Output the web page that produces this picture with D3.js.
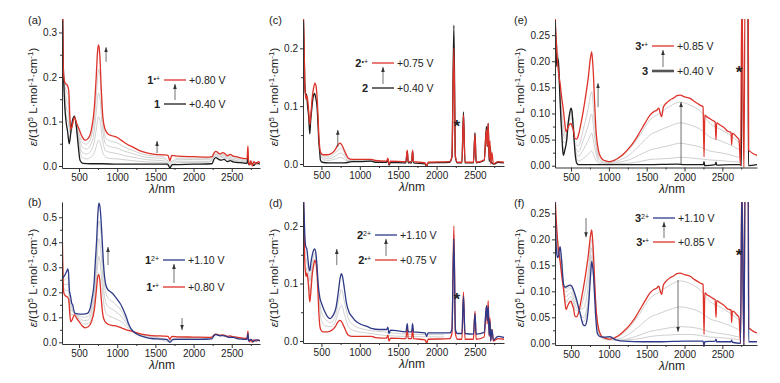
<!DOCTYPE html>
<html>
<head>
<meta charset="utf-8">
<script src="https://cdn.jsdelivr.net/npm/d3@7"></script>
<style>
body { margin: 0; background: #fff; }
text { font-family: "Liberation Sans", Arial, sans-serif; fill: #222; }
</style>
</head>
<body>
<script>
// ---- spectra, [wavelength nm, epsilon / 1e5 L mol-1 cm-1] ----
var neutral1 = [[280,0.40],[290,0.26],[300,0.19],[315,0.13],[330,0.10],[350,0.078],[372,0.05],[390,0.072],[415,0.103],[440,0.112],[465,0.088],[490,0.045],[513,0.013],[550,0.006],[650,0.005],[800,0.005],[1000,0.004],[1300,0.004],[1660,0.004],[1690,-0.004],[1720,0.003],[2000,0.004],[2240,0.005],[2270,0.016],[2290,0.019],[2320,0.016],[2360,0.013],[2400,0.015],[2440,0.01],[2480,0.012],[2520,0.009],[2560,0.008],[2640,0.007],[2700,0.006],[2712,0.02],[2722,0.003],[2760,0.006],[2790,0.001],[2820,0.007],[2870,0.004]];
var radical1 = [[280,0.44],[286,0.33],[292,0.24],[300,0.2],[320,0.186],[345,0.182],[365,0.17],[380,0.11],[392,0.082],[410,0.09],[440,0.11],[465,0.098],[500,0.083],[540,0.066],[580,0.058],[620,0.062],[660,0.08],[700,0.13],[725,0.2],[745,0.262],[758,0.272],[772,0.25],[792,0.17],[812,0.11],[840,0.083],[880,0.072],[930,0.068],[1000,0.064],[1060,0.057],[1120,0.05],[1200,0.043],[1300,0.034],[1400,0.029],[1500,0.026],[1600,0.025],[1665,0.024],[1690,0.012],[1715,0.024],[1800,0.022],[2000,0.021],[2200,0.02],[2245,0.021],[2270,0.03],[2290,0.033],[2320,0.03],[2350,0.027],[2380,0.03],[2410,0.028],[2440,0.023],[2480,0.026],[2520,0.022],[2560,0.021],[2600,0.019],[2650,0.017],[2700,0.016],[2712,0.045],[2720,0.01],[2735,0.002],[2750,0.012],[2770,0.0],[2790,0.01],[2820,0.005],[2850,0.01],[2870,0.006]];
var dication1 = [[280,0.256],[300,0.262],[317,0.27],[340,0.285],[352,0.293],[362,0.28],[373,0.21],[390,0.183],[405,0.155],[417,0.15],[430,0.13],[448,0.116],[513,0.113],[560,0.113],[609,0.116],[640,0.13],[670,0.175],[697,0.236],[715,0.33],[731,0.41],[748,0.52],[760,0.556],[773,0.545],[786,0.5],[803,0.41],[819,0.32],[835,0.26],[854,0.226],[880,0.21],[906,0.203],[940,0.195],[972,0.183],[1000,0.172],[1037,0.156],[1065,0.14],[1090,0.123],[1120,0.1],[1146,0.076],[1180,0.055],[1212,0.043],[1260,0.032],[1300,0.027],[1360,0.021],[1430,0.016],[1550,0.013],[1650,0.012],[1690,0.0],[1730,0.012],[1900,0.012],[2085,0.012],[2240,0.014],[2270,0.027],[2290,0.031],[2320,0.028],[2350,0.026],[2380,0.027],[2420,0.025],[2460,0.02],[2520,0.02],[2560,0.016],[2620,0.013],[2700,0.012],[2712,0.035],[2722,0.005],[2750,0.012],[2780,0.003],[2820,0.01],[2870,0.006]];

var greyNmA = [280,300,330,360,390,440,490,540,600,650,700,730,755,775,800,850,900,1000,1100,1200,1400,1600,1690,1800,2200,2280,2400,2600,2850];
var greyA = [
  [0.43,0.198,0.169,0.159,0.082,0.11,0.079,0.054,0.049,0.061,0.105,0.169,0.217,0.201,0.129,0.063,0.057,0.052,0.042,0.035,0.024,0.021,0.009,0.018,0.017,0.029,0.026,0.017,0.006],
  [0.424,0.196,0.152,0.138,0.079,0.111,0.072,0.043,0.038,0.047,0.08,0.128,0.164,0.152,0.098,0.049,0.044,0.04,0.033,0.028,0.019,0.017,0.006,0.015,0.014,0.026,0.023,0.014,0.005],
  [0.416,0.194,0.134,0.117,0.076,0.111,0.064,0.031,0.027,0.033,0.055,0.087,0.111,0.103,0.067,0.034,0.031,0.028,0.023,0.02,0.014,0.012,0.002,0.011,0.01,0.023,0.02,0.011,0.005],
  [0.408,0.192,0.117,0.096,0.073,0.112,0.057,0.019,0.016,0.019,0.03,0.046,0.058,0.054,0.036,0.02,0.017,0.016,0.014,0.012,0.009,0.008,-0.001,0.008,0.007,0.021,0.018,0.009,0.004]
];
var greyNmB = [280,300,330,360,390,440,500,560,620,670,700,730,760,790,820,860,900,950,1000,1050,1100,1150,1200,1300,1500,1690,1800,2200,2290,2450,2850];
var greyB = [
  [0.394,0.216,0.208,0.206,0.11,0.112,0.092,0.073,0.075,0.104,0.158,0.258,0.343,0.275,0.165,0.113,0.104,0.098,0.091,0.083,0.069,0.055,0.044,0.032,0.023,0.009,0.02,0.018,0.033,0.024,0.006],
  [0.348,0.231,0.232,0.233,0.134,0.114,0.099,0.087,0.089,0.128,0.185,0.305,0.414,0.35,0.22,0.15,0.138,0.129,0.118,0.105,0.085,0.062,0.044,0.031,0.02,0.006,0.017,0.017,0.032,0.024,0.006],
  [0.302,0.247,0.255,0.259,0.159,0.116,0.106,0.1,0.103,0.151,0.213,0.353,0.485,0.425,0.275,0.188,0.171,0.16,0.145,0.128,0.1,0.068,0.045,0.029,0.016,0.003,0.015,0.015,0.032,0.023,0.006]
];

var neutral2 = [[262,0.27],[275,0.2],[283,0.14],[292,0.122],[305,0.12],[320,0.1],[335,0.08],[348,0.052],[360,0.075],[378,0.1],[395,0.118],[410,0.122],[425,0.115],[443,0.099],[455,0.07],[465,0.041],[478,0.02],[487,0.007],[510,0.003],[600,0.002],[800,0.002],[900,0.004],[1000,0.004],[1150,0.005],[1200,0.003],[1350,0.003],[1365,0.008],[1380,-0.002],[1400,0.003],[1600,0.002],[1618,0.022],[1630,0.002],[1675,0.002],[1687,0.022],[1700,0.002],[1850,0.0],[1870,-0.005],[1890,0.002],[2170,0.003],[2200,0.012],[2225,0.24],[2245,0.012],[2270,0.002],[2330,0.002],[2350,0.09],[2370,0.002],[2480,0.002],[2500,0.054],[2515,0.002],[2620,0.006],[2650,0.065],[2660,0.03],[2672,0.07],[2685,0.004],[2700,0.03],[2710,0.003],[2750,0.0],[2800,0.003],[2878,0.002]];
var radical2 = [[262,0.27],[275,0.2],[283,0.14],[292,0.12],[300,0.112],[308,0.118],[318,0.114],[335,0.09],[348,0.068],[362,0.085],[380,0.115],[400,0.133],[415,0.14],[430,0.135],[443,0.116],[455,0.085],[465,0.053],[478,0.028],[490,0.02],[520,0.016],[580,0.016],[640,0.019],[680,0.025],[710,0.032],[740,0.036],[760,0.034],[790,0.026],[820,0.017],[850,0.01],[900,0.008],[1000,0.008],[1150,0.008],[1200,0.006],[1350,0.005],[1365,0.01],[1380,0.0],[1400,0.005],[1600,0.004],[1618,0.024],[1630,0.004],[1675,0.004],[1687,0.024],[1700,0.004],[1850,0.002],[1870,-0.004],[1890,0.003],[2170,0.004],[2200,0.013],[2225,0.2],[2245,0.013],[2270,0.003],[2330,0.003],[2350,0.085],[2370,0.003],[2480,0.003],[2500,0.052],[2515,0.003],[2620,0.007],[2650,0.06],[2660,0.03],[2672,0.07],[2685,0.008],[2695,0.04],[2705,0.0],[2720,0.02],[2740,0.0],[2800,0.004],[2878,0.003]];
var dication2 = [[262,0.27],[275,0.22],[285,0.18],[295,0.165],[310,0.16],[326,0.14],[340,0.125],[350,0.122],[362,0.135],[385,0.152],[410,0.16],[425,0.155],[440,0.135],[457,0.1],[480,0.075],[500,0.066],[540,0.052],[580,0.042],[615,0.039],[650,0.044],[690,0.058],[720,0.085],[745,0.11],[760,0.117],[775,0.112],[800,0.09],[826,0.066],[860,0.05],[900,0.042],[935,0.036],[1000,0.03],[1100,0.025],[1152,0.022],[1250,0.02],[1350,0.02],[1365,0.024],[1380,0.013],[1400,0.019],[1600,0.016],[1618,0.03],[1630,0.016],[1675,0.016],[1687,0.03],[1700,0.016],[1850,0.014],[1870,0.008],[1890,0.014],[2170,0.014],[2200,0.02],[2225,0.178],[2245,0.02],[2270,0.013],[2330,0.013],[2350,0.078],[2370,0.013],[2480,0.012],[2500,0.048],[2515,0.012],[2620,0.015],[2650,0.062],[2660,0.035],[2672,0.06],[2685,0.01],[2695,0.035],[2705,0.0],[2720,0.02],[2740,0.002],[2800,0.008],[2878,0.006]];

var greyNmC = [480,500,540,600,660,700,730,755,780,820,860,920,1000,1200];
var greyC = [
  [0.023,0.017,0.013,0.012,0.017,0.022,0.026,0.027,0.024,0.013,0.008,0.007,0.007,0.005],
  [0.021,0.013,0.01,0.009,0.012,0.015,0.018,0.019,0.017,0.009,0.006,0.006,0.006,0.005],
  [0.018,0.01,0.007,0.006,0.008,0.009,0.011,0.011,0.01,0.006,0.005,0.005,0.005,0.004]
];
var greyNmD = [300,330,350,380,410,440,470,500,560,620,680,720,760,800,860,950,1100,1300,1600,2100];
var greyD = [
  [0.128,0.106,0.086,0.123,0.143,0.125,0.072,0.035,0.026,0.025,0.033,0.05,0.062,0.046,0.023,0.017,0.014,0.01,0.008,0.007],
  [0.144,0.122,0.104,0.135,0.152,0.13,0.078,0.051,0.037,0.032,0.042,0.067,0.09,0.068,0.036,0.025,0.019,0.016,0.012,0.011]
];

var neutral3 = [[285,0.3],[300,0.24],[311,0.19],[322,0.205],[333,0.2],[345,0.16],[355,0.126],[366,0.09],[377,0.062],[390,0.03],[399,0.02],[415,0.028],[443,0.049],[465,0.085],[478,0.097],[500,0.11],[512,0.105],[522,0.087],[540,0.05],[553,0.025],[575,0.005],[600,0.002],[800,0.002],[1000,0.002],[1500,0.002],[1900,0.003],[2000,0.002],[2250,0.002],[2258,0.008],[2266,0.0],[2405,0.002],[2416,0.007],[2425,0.001],[2600,0.002],[2740,0.002],[2752,0.0],[2760,0.32],[2838,0.32],[2845,0.0],[2958,0.002]];
var radical3 = [[285,0.3],[300,0.25],[311,0.221],[330,0.185],[355,0.158],[377,0.13],[399,0.106],[415,0.085],[434,0.065],[450,0.07],[465,0.075],[485,0.08],[500,0.081],[515,0.075],[531,0.068],[553,0.052],[575,0.051],[597,0.058],[630,0.08],[663,0.106],[700,0.14],[729,0.17],[755,0.205],[773,0.218],[785,0.2],[795,0.177],[812,0.12],[830,0.068],[845,0.045],[861,0.03],[890,0.017],[927,0.011],[970,0.009],[1015,0.008],[1080,0.011],[1148,0.017],[1210,0.025],[1280,0.036],[1350,0.05],[1412,0.065],[1480,0.082],[1544,0.097],[1600,0.104],[1632,0.106],[1660,0.11],[1680,0.1],[1698,0.094],[1720,0.112],[1760,0.12],[1808,0.126],[1860,0.13],[1900,0.134],[1941,0.135],[2000,0.132],[2073,0.129],[2140,0.122],[2205,0.116],[2245,0.113],[2258,0.017],[2268,0.097],[2300,0.093],[2337,0.09],[2380,0.086],[2405,0.084],[2416,0.05],[2425,0.082],[2469,0.078],[2530,0.072],[2570,0.066],[2615,0.064],[2623,0.04],[2632,0.062],[2660,0.06],[2690,0.055],[2720,0.05],[2740,0.0],[2758,0.33],[2785,-0.01],[2800,0.33],[2842,0.33],[2848,0.03],[2870,0.027],[2910,0.023],[2958,0.02]];
var dication3 = [[285,0.3],[300,0.2],[311,0.173],[322,0.165],[333,0.167],[345,0.18],[355,0.186],[366,0.175],[377,0.157],[390,0.13],[399,0.115],[420,0.108],[443,0.109],[465,0.111],[487,0.112],[510,0.11],[531,0.103],[553,0.094],[575,0.083],[597,0.07],[619,0.058],[640,0.045],[663,0.035],[685,0.034],[707,0.042],[730,0.07],[751,0.115],[765,0.145],[773,0.157],[785,0.148],[795,0.135],[810,0.095],[826,0.051],[848,0.019],[883,0.013],[950,0.012],[1015,0.013],[1060,0.009],[1104,0.006],[1200,0.004],[1456,0.003],[1700,0.003],[2000,0.004],[2245,0.004],[2258,-0.004],[2268,0.003],[2405,0.004],[2416,0.008],[2425,0.003],[2615,0.003],[2623,0.006],[2632,0.002],[2740,0.0],[2758,0.3],[2785,-0.01],[2800,0.3],[2842,0.3],[2848,0.003],[2958,0.003]];

var greyNmE = [300,333,366,399,434,465,500,531,553,597,663,729,773,812,861,927,1015,1148,1280,1412,1544,1660,1808,1941,2073,2205,2337,2469,2600,2720];
var greyE = [
  [0.247,0.194,0.123,0.076,0.056,0.079,0.091,0.075,0.043,0.038,0.07,0.111,0.142,0.079,0.02,0.01,0.007,0.016,0.033,0.059,0.088,0.099,0.114,0.122,0.116,0.105,0.081,0.07,0.059,0.045],
  [0.245,0.196,0.113,0.059,0.051,0.081,0.097,0.078,0.037,0.027,0.049,0.078,0.099,0.055,0.015,0.007,0.006,0.011,0.022,0.04,0.059,0.067,0.076,0.082,0.078,0.07,0.055,0.048,0.04,0.031],
  [0.243,0.197,0.104,0.044,0.047,0.082,0.102,0.082,0.033,0.018,0.031,0.049,0.062,0.035,0.01,0.005,0.004,0.007,0.012,0.021,0.03,0.034,0.039,0.043,0.04,0.036,0.028,0.025,0.021,0.016],
  [0.241,0.199,0.096,0.03,0.043,0.084,0.107,0.085,0.028,0.009,0.014,0.022,0.028,0.016,0.005,0.003,0.003,0.004,0.005,0.008,0.012,0.013,0.014,0.016,0.015,0.013,0.011,0.01,0.008,0.007]
];
var greyF = [
  [0.235,0.183,0.151,0.109,0.078,0.086,0.09,0.079,0.065,0.062,0.085,0.139,0.2,0.112,0.026,0.01,0.007,0.015,0.032,0.058,0.087,0.098,0.112,0.12,0.115,0.103,0.08,0.07,0.058,0.045],
  [0.223,0.177,0.16,0.111,0.089,0.094,0.098,0.088,0.075,0.065,0.067,0.114,0.184,0.105,0.023,0.008,0.006,0.009,0.019,0.034,0.05,0.057,0.065,0.07,0.067,0.06,0.047,0.041,0.034,0.026],
  [0.21,0.172,0.169,0.113,0.099,0.103,0.106,0.097,0.086,0.068,0.049,0.088,0.169,0.098,0.02,0.012,0.01,0.006,0.01,0.016,0.023,0.026,0.03,0.032,0.031,0.028,0.022,0.019,0.016,0.012],
  [0.204,0.169,0.173,0.114,0.105,0.107,0.109,0.101,0.091,0.069,0.041,0.076,0.162,0.095,0.018,0.012,0.011,0.006,0.007,0.009,0.013,0.015,0.016,0.017,0.017,0.015,0.012,0.011,0.009,0.007]
];

var xTicks = [500, 1000, 1500, 2000, 2500];
var xMinor = [750, 1250, 1750, 2250, 2750];
var yTicks1 = [0, 0.1, 0.2, 0.3];
var yTicks2 = [0, 0.1, 0.2, 0.3, 0.4, 0.5];
var yTicks3 = [0, 0.1, 0.2];
var yTicks4 = [0, 0.05, 0.1, 0.15, 0.2, 0.25];

// ---- styles / layout ----
var red = "#dd3229", blue = "#2e3a88", black = "#1c1c1c", grey = "#c4c4c4", ink = "#333";

var columns = [
  {left: 62, right: 260, nm0: 277, nm1: 2870, title: 162},
  {left: 303, right: 504, nm0: 260, nm1: 2878, title: 412},
  {left: 555, right: 757, nm0: 288, nm1: 2958, title: 672}
];

var panels = [
  {id: "a", col: 0, top: 20, bottom: 168, vmin: -0.0045, vmax: 0.328, ticks: yTicks1, fmt: ".1f",
   greyNm: greyNmA, greys: greyA, curves: [[neutral1, black], [radical1, red]],
   legend: {x: 164, y1: 80, y2: 104, rows: [["1", "\u2022+", "+0.80 V", red, 1.3], ["1", "", "+0.40 V", black, 1.3]]},
   arrows: [[854, 0.234, 0.267], [1522, 0.029, 0.056]], stars: []},
  {id: "b", col: 0, top: 202, bottom: 344, vmin: -0.0068, vmax: 0.561, ticks: yTicks2, fmt: ".1f",
   greyNm: greyNmB, greys: greyB, curves: [[radical1, red], [dication1, blue]],
   legend: {x: 163, y1: 260, y2: 287, rows: [["1", "2+", "+1.10 V", blue, 1.3], ["1", "\u2022+", "+0.80 V", red, 1.3]]},
   arrows: [[880, 0.309, 0.381], [1849, 0.097, 0.049]], stars: []},
  {id: "c", col: 1, top: 20, bottom: 166, vmin: -0.0035, vmax: 0.249, ticks: yTicks3, fmt: ".1f",
   greyNm: greyNmC, greys: greyC, curves: [[neutral2, black], [radical2, red]],
   legend: {x: 372, y1: 63, y2: 88, rows: [["2", "\u2022+", "+0.75 V", red, 1.3], ["2", "", "+0.40 V", black, 1.3]]},
   arrows: [[713, 0.029, 0.059]], stars: [[2265, 0.073]]},
  {id: "d", col: 1, top: 203, bottom: 343, vmin: -0.0035, vmax: 0.24, ticks: yTicks3, fmt: ".1f",
   greyNm: greyNmD, greys: greyD, curves: [[radical2, red], [dication2, blue]],
   legend: {x: 375, y1: 235, y2: 260, rows: [["2", "2+", "+1.10 V", blue, 1.3], ["2", "\u2022+", "+0.75 V", red, 1.3]]},
   arrows: [[700, 0.132, 0.16]], stars: [[2265, 0.08]]},
  {id: "e", col: 2, top: 20, bottom: 167.5, vmin: -0.0034, vmax: 0.279, ticks: yTicks4, fmt: ".2f",
   greyNm: greyNmE, greys: greyE, curves: [[neutral3, black], [radical3, red]],
   legend: {x: 652, y1: 46, y2: 71, rows: [["3", "\u2022+", "+0.85 V", red, 1.3], ["3", "", "+0.40 V", "#555", 2.6]]},
   arrows: [[857, 0.112, 0.158], [1954, 0.001, 0.122]], stars: [[2720, 0.187]]},
  {id: "f", col: 2, top: 203, bottom: 345, vmin: -0.0033, vmax: 0.27, ticks: yTicks4, fmt: ".2f",
   greyNm: greyNmE, greys: greyF, curves: [[radical3, red], [dication3, blue]],
   legend: {x: 653, y1: 218, y2: 242, rows: [["3", "2+", "+1.10 V", blue, 1.3], ["3", "\u2022+", "+0.85 V", red, 1.3]]},
   arrows: [[698, 0.241, 0.204], [1914, 0.122, 0.022]], stars: [[2720, 0.178]]}
];

var svg = d3.select("body").append("svg").attr("width", 780).attr("height", 383);
var defs = svg.append("defs");
defs.append("marker").attr("id", "head").attr("viewBox", "0 0 6 6")
  .attr("refX", 6).attr("refY", 3).attr("markerWidth", 5).attr("markerHeight", 5)
  .attr("markerUnits", "userSpaceOnUse").attr("orient", "auto")
  .append("path").attr("d", "M0,0.8L6,3L0,5.2Z").attr("fill", ink);

function sup(t, s, size) {
  t.append("tspan").attr("font-size", size).attr("baseline-shift", "super").text(s);
}

panels.forEach(function(p) {
  var col = columns[p.col];
  var x = d3.scaleLinear().domain([col.nm0, col.nm1]).range([col.left, col.right]);
  var y = d3.scaleLinear().domain([p.vmin, p.vmax]).range([p.bottom, p.top]);
  var g = svg.append("g");

  defs.append("clipPath").attr("id", "clip" + p.id).append("rect")
    .attr("x", col.left).attr("y", p.top - 1)
    .attr("width", col.right - col.left).attr("height", p.bottom - p.top + 1);
  var plot = g.append("g").attr("clip-path", "url(#clip" + p.id + ")");
  var line = d3.line().curve(d3.curveMonotoneX)
    .x(function(d) { return x(d[0]); }).y(function(d) { return y(d[1]); });

  p.greys.forEach(function(vals) {
    plot.append("path").datum(p.greyNm.map(function(n, k) { return [n, vals[k]]; }))
      .attr("d", line).attr("fill", "none").attr("stroke", grey).attr("stroke-width", 0.8);
  });
  p.curves.forEach(function(c) {
    plot.append("path").datum(c[0]).attr("d", line).attr("fill", "none")
      .attr("stroke", c[1]).attr("stroke-width", 1.3).attr("stroke-linejoin", "round");
  });

  // axes
  g.append("g").attr("transform", "translate(0," + p.bottom + ")")
    .call(d3.axisBottom(x).tickValues(xTicks).tickFormat(d3.format("d"))
      .tickSize(4).tickPadding(2).tickSizeOuter(0));
  g.append("g").attr("transform", "translate(0," + p.bottom + ")")
    .call(d3.axisBottom(x).tickValues(xMinor).tickSize(2).tickFormat(""))
    .select(".domain").remove();
  g.append("g").attr("transform", "translate(" + col.left + ",0)")
    .call(d3.axisLeft(y).tickValues(p.ticks).tickFormat(d3.format(p.fmt))
      .tickSize(3).tickPadding(2).tickSizeOuter(0));
  var half = p.ticks.slice(1).map(function(t, k) { return (t + p.ticks[k]) / 2; });
  g.append("g").attr("transform", "translate(" + col.left + ",0)")
    .call(d3.axisLeft(y).tickValues(half).tickSize(2).tickFormat(""))
    .select(".domain").remove();
  g.selectAll(".domain, .tick line").attr("stroke", ink);
  g.selectAll(".tick text").attr("font-size", 10).attr("font-family", null).attr("fill", "#222");

  // axis titles
  var xt = g.append("text").attr("x", col.title).attr("y", p.bottom + 25)
    .attr("text-anchor", "middle").attr("font-size", 12);
  xt.append("tspan").attr("font-style", "italic").text("\u03bb");
  xt.append("tspan").text("/nm");

  var off = p.fmt === ".2f" ? 31 : 25;
  var ty = p.top < 100 ? 97 : 278;
  var yt = g.append("text").attr("transform", "translate(" + (col.left - off) + "," + ty + ") rotate(-90)")
    .attr("text-anchor", "middle").attr("font-size", 11.5);
  yt.append("tspan").attr("font-style", "italic").text("\u03b5");
  yt.append("tspan").text("/(10");
  sup(yt, "5", 8);
  yt.append("tspan").text(" L\u00b7mol");
  sup(yt, "-1", 8);
  yt.append("tspan").text("\u00b7cm");
  sup(yt, "-1", 8);
  yt.append("tspan").text(")");

  g.append("text").attr("x", col.left - (p.fmt === ".2f" ? 41 : 34)).attr("y", p.top + 4)
    .attr("font-size", 11).text("(" + p.id + ")");

  // legend
  var L = p.legend;
  [L.y1, L.y2].forEach(function(ly, k) {
    var r = L.rows[k];
    g.append("line").attr("x1", L.x).attr("x2", L.x + 22).attr("y1", ly).attr("y2", ly)
      .attr("stroke", r[3]).attr("stroke-width", r[4]);
    var s = g.append("text").attr("x", L.x - 4).attr("y", ly + 4).attr("text-anchor", "end").attr("font-size", 11);
    s.append("tspan").attr("font-weight", "bold").text(r[0]);
    if (r[1]) sup(s, r[1], 7);
    g.append("text").attr("x", L.x + 25).attr("y", ly + 4).attr("font-size", 10.5).text(r[2]);
  });
  g.append("line").attr("x1", L.x + 11).attr("x2", L.x + 11)
    .attr("y1", L.y2 - 4).attr("y2", L.y1 + 4)
    .attr("stroke", ink).attr("stroke-width", 0.7).attr("marker-end", "url(#head)");

  // change arrows and solvent marks
  p.arrows.forEach(function(a) {
    g.append("line").attr("x1", x(a[0])).attr("x2", x(a[0])).attr("y1", y(a[1])).attr("y2", y(a[2]))
      .attr("stroke", ink).attr("stroke-width", 0.7).attr("marker-end", "url(#head)");
  });
  p.stars.forEach(function(s) {
    g.append("text").attr("x", x(s[0])).attr("y", y(s[1])).attr("dy", "0.6em")
      .attr("text-anchor", "middle").attr("font-size", 17).attr("font-weight", "bold").text("*");
  });
});
</script>
</body>
</html>
